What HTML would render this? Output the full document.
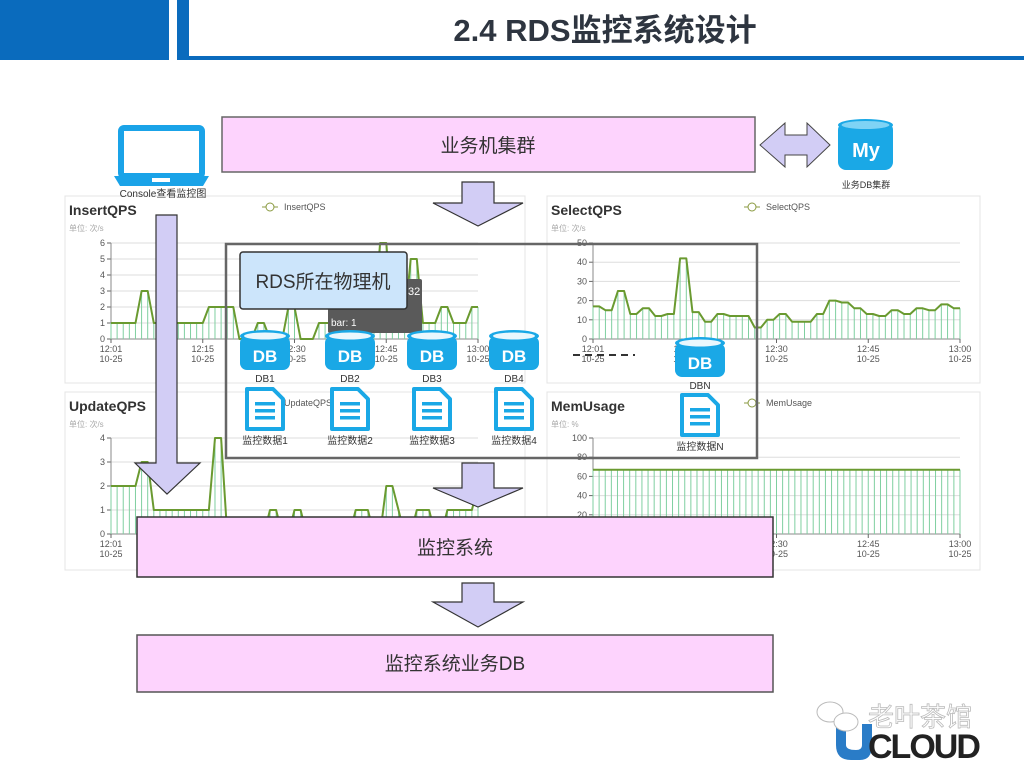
<!DOCTYPE html>
<html><head><meta charset="utf-8"><style>
html,body{margin:0;padding:0;background:#fff;width:1024px;height:768px;overflow:hidden}
svg text{font-family:"Liberation Sans","Noto Sans CJK SC",sans-serif}
</style></head><body>
<svg id="s" width="1024" height="768" viewBox="0 0 1024 768" xmlns="http://www.w3.org/2000/svg">
<!-- header -->
<rect x="0" y="0" width="169" height="60" fill="#0a6bbd"/>
<rect x="177" y="0" width="12" height="60" fill="#0a6bbd"/>
<rect x="189" y="56" width="835" height="4" fill="#0a6bbd"/>
<text x="605" y="41" font-size="31" font-weight="bold" fill="#2e3540" text-anchor="middle">2.4 RDS监控系统设计</text>

<!-- chart panels -->
<g fill="#fff" stroke="#e4e4e4" stroke-width="1">
<rect x="65" y="196" width="460" height="187"/>
<rect x="547" y="196" width="433" height="187"/>
<rect x="65" y="392" width="460" height="178"/>
<rect x="547" y="392" width="433" height="178"/>
</g>
<g id="charts"></g>

<!-- laptop -->
<rect x="121" y="128" width="81" height="48" rx="3" fill="none" stroke="#1aa3e8" stroke-width="6"/>
<path d="M114 176 H209 L203 186 H120 Z" fill="#1aa3e8"/>
<rect x="152" y="178" width="18" height="4" fill="#fff"/>
<text x="163" y="197" font-size="10" fill="#333" text-anchor="middle">Console查看监控图</text>

<!-- top box -->
<rect x="222" y="117" width="533" height="55" fill="#fdd3fd" stroke="#666" stroke-width="1.5"/>
<text x="488" y="152" font-size="19" fill="#333" text-anchor="middle">业务机集群</text>
<path d="M760 145 L785 123 V135 H807 V123 L830 145 L807 167 V155 H785 V167 Z" fill="#d2cdf5" stroke="#444" stroke-width="1"/>
<!-- My cylinder -->
<rect x="838" y="122" width="55" height="48" rx="8" fill="#1aa8e6"/>
<ellipse cx="865.5" cy="125" rx="27.5" ry="6" fill="#1aa8e6"/>
<ellipse cx="865.5" cy="125" rx="24" ry="4" fill="#7fd3f5"/>
<text x="866" y="157" font-size="20" font-weight="bold" fill="#fff" text-anchor="middle">My</text>
<text x="866" y="188" font-size="9" fill="#333" text-anchor="middle">业务DB集群</text>

<!-- arrow from top box -->
<path d="M462 182 H494 V203 H523 L478 226 L433 203 H462 Z" fill="#d2cdf5" stroke="#333" stroke-width="1.2"/>

<!-- RDS frame -->
<rect x="226" y="244" width="531" height="214" fill="none" stroke="#666" stroke-width="2.5"/>
<rect x="328" y="279" width="94" height="54" rx="2" fill="#5a5a5a"/>
<text x="408" y="295" font-size="11" fill="#fff">32</text>
<text x="331" y="326" font-size="10" fill="#fff">bar: 1</text>
<rect x="240" y="252" width="167" height="57" rx="3" fill="#cce5fb" stroke="#333" stroke-width="1.5"/>
<text x="323" y="288" font-size="19" fill="#333" text-anchor="middle">RDS所在物理机</text>

<g id="dbs"></g>
<line x1="573" y1="355" x2="635" y2="355" stroke="#333" stroke-width="2" stroke-dasharray="7,5"/>

<!-- console down arrow -->
<path d="M156 215 H177 V463 H200 L167 494 L135 463 H156 Z" fill="#d2cdf5" stroke="#333" stroke-width="1.2"/>
<!-- arrow after frame -->
<path d="M462 463 H494 V488 H523 L478 507 L433 488 H462 Z" fill="#d2cdf5" stroke="#333" stroke-width="1.2"/>

<rect x="137" y="517" width="636" height="60" fill="#fdd3fd" stroke="#333" stroke-width="1.5"/>
<text x="455" y="554" font-size="19" fill="#333" text-anchor="middle">监控系统</text>
<path d="M462 583 H494 V602 H523 L478 627 L433 602 H462 Z" fill="#d2cdf5" stroke="#333" stroke-width="1.2"/>
<rect x="137" y="635" width="636" height="57" fill="#fdd3fd" stroke="#555" stroke-width="1.5"/>
<text x="455" y="670" font-size="19" fill="#333" text-anchor="middle">监控系统业务DB</text>

<!-- logo -->
<path d="M836 724 V745 Q836 760 851 760 H860 Q872 760 872 745 V724 H862 V745 Q862 750 856 750 Q846 750 846 745 V724 Z" fill="#2a7cc7"/>
<text x="868" y="758" font-size="34" font-weight="bold" fill="#222" letter-spacing="-2">CLOUD</text>
<text x="868" y="726" font-size="26" fill="#fff" stroke="#bbb" stroke-width="0.8">老叶茶馆</text>
<ellipse cx="830" cy="712" rx="13" ry="10" fill="#fff" stroke="#bbb"/>
<ellipse cx="846" cy="722" rx="12" ry="9" fill="#fff" stroke="#bbb"/>
</svg>
<script>
var NS="http://www.w3.org/2000/svg";
function el(p,t,a,txt){var e=document.createElementNS(NS,t);for(var k in a)e.setAttribute(k,a[k]);if(txt!==undefined)e.textContent=txt;p.appendChild(e);return e;}
var C=document.getElementById('charts');
function chart(px,py,title,unit,legend,lx,x0,x1,ytop,ybot,ticks,max,data){
 el(C,'text',{x:px+4,y:py+19,'font-size':14,'font-weight':'bold',fill:'#333'},title);
 el(C,'text',{x:px+4,y:py+35,'font-size':8,fill:'#aaa'},unit);
 el(C,'line',{x1:lx,y1:py+11,x2:lx+16,y2:py+11,stroke:'#8a9a40'});
 el(C,'circle',{cx:lx+8,cy:py+11,r:4,fill:'#fff',stroke:'#8a9a40'});
 el(C,'text',{x:lx+22,y:py+14,'font-size':9,fill:'#555'},legend);
 for(var i=0;i<ticks.length;i++){var y=ybot-(ybot-ytop)*ticks[i]/max;
  el(C,'line',{x1:x0,y1:y,x2:x1,y2:y,stroke:'#ddd'});
  el(C,'line',{x1:x0-4,y1:y,x2:x0,y2:y,stroke:'#666'});
  el(C,'text',{x:x0-6,y:y+3,'font-size':9,fill:'#555','text-anchor':'end'},ticks[i]);}
 el(C,'line',{x1:x0,y1:ytop,x2:x0,y2:ybot,stroke:'#888'});
 el(C,'line',{x1:x0,y1:ybot,x2:x1,y2:ybot,stroke:'#888'});
 var labs=['12:01','12:15','12:30','12:45','13:00'];
 for(var i=0;i<5;i++){var x=x0+(x1-x0)*i/4;el(C,'line',{x1:x,y1:ybot,x2:x,y2:ybot+4,stroke:'#666'});
  el(C,'text',{x:x,y:ybot+13,'font-size':9,fill:'#555','text-anchor':'middle'},labs[i]);
  el(C,'text',{x:x,y:ybot+23,'font-size':9,fill:'#555','text-anchor':'middle'},'10-25');}
 var n=data.length,pts=[];
 for(var i=0;i<n;i++){var x=x0+(x1-x0)*i/(n-1),y=ybot-(ybot-ytop)*data[i]/max;pts.push(x.toFixed(1)+','+y.toFixed(1));
  el(C,'line',{x1:x,y1:y,x2:x,y2:ybot,stroke:'#7fcfa0','stroke-width':1});}
 el(C,'polyline',{points:pts.join(' '),fill:'none',stroke:'#6a9a30','stroke-width':2,'stroke-linejoin':'round'});
}
var ins=[1,1,1,1,1,3,3,1,1,1,1,1,1,1,1,1,2,2,2,2,2,0,0,0,1,1,0,0,0,2,2,0,0,0,1,1,1,1,1,1,1,1,1,1,6,6,1,1,1,5,5,1,1,1,2,2,1,1,1,2,2];
var sel=[17,17,15,15,25,25,13,13,16,16,12,12,13,13,42,42,14,14,9,9,13,13,12,12,12,12,6,6,10,10,13,13,9,9,9,9,13,13,20,20,19,19,16,16,13,13,12,12,15,15,13,13,16,16,15,15,18,18,16,16];
var upd=[2,2,2,2,2,3,3,1,1,1,1,1,1,1,1,1,1,4,4,0,0,0,0,0,0,0,1,1,0,0,1,1,0,0,0,0,0,0,0,0,1,1,1,0,0,2,2,1,0,0,1,1,1,0,0,1,1,1,1,1,2];
var mem=[];for(var i=0;i<61;i++)mem.push(67);
chart(65,196,'InsertQPS','单位: 次/s','InsertQPS',262,111,478,243,339,[0,1,2,3,4,5,6],6,ins);
chart(547,196,'SelectQPS','单位: 次/s','SelectQPS',744,593,960,243,339,[0,10,20,30,40,50],50,sel);
chart(65,392,'UpdateQPS','单位: 次/s','UpdateQPS',262,111,478,438,534,[0,1,2,3,4],4,upd);
chart(547,392,'MemUsage','单位: %','MemUsage',744,593,960,438,534,[0,20,40,60,80,100],100,mem);
var D=document.getElementById('dbs');
function db(cx,cy,lab){
 el(D,'rect',{x:cx-25,y:cy-14,width:50,height:34,rx:7,fill:'#1aa8e6'});
 el(D,'ellipse',{cx:cx,cy:cy-14,rx:25,ry:6,fill:'#1aa8e6'});
 el(D,'ellipse',{cx:cx,cy:cy-14,rx:21,ry:3.5,fill:'#e9f7fd'});
 el(D,'text',{x:cx,y:cy+12,'font-size':17,'font-weight':'bold',fill:'#fff','text-anchor':'middle'},'DB');
 el(D,'text',{x:cx,y:cy+32,'font-size':10,fill:'#333','text-anchor':'middle'},lab);}
function doc(cx,cy,lab){
 el(D,'path',{d:'M'+(cx-18)+' '+(cy-20)+' H'+(cx+8)+' L'+(cx+18)+' '+(cy-10)+' V'+(cy+20)+' H'+(cx-18)+' Z',fill:'#fff',stroke:'#1aa8e6','stroke-width':4,'stroke-linejoin':'round'});
 for(var i=0;i<3;i++)el(D,'rect',{x:cx-10,y:cy-7+i*7,width:20,height:3.5,fill:'#1aa8e6'});
 el(D,'text',{x:cx,y:cy+35,'font-size':10,fill:'#333','text-anchor':'middle'},lab);}
[[265,'DB1'],[350,'DB2'],[432,'DB3'],[514,'DB4']].forEach(function(a,i){db(a[0],350,a[1]);doc(a[0],409,'监控数据'+(i+1));});
db(700,357,'DBN');doc(700,415,'监控数据N');
</script>
</body></html>
